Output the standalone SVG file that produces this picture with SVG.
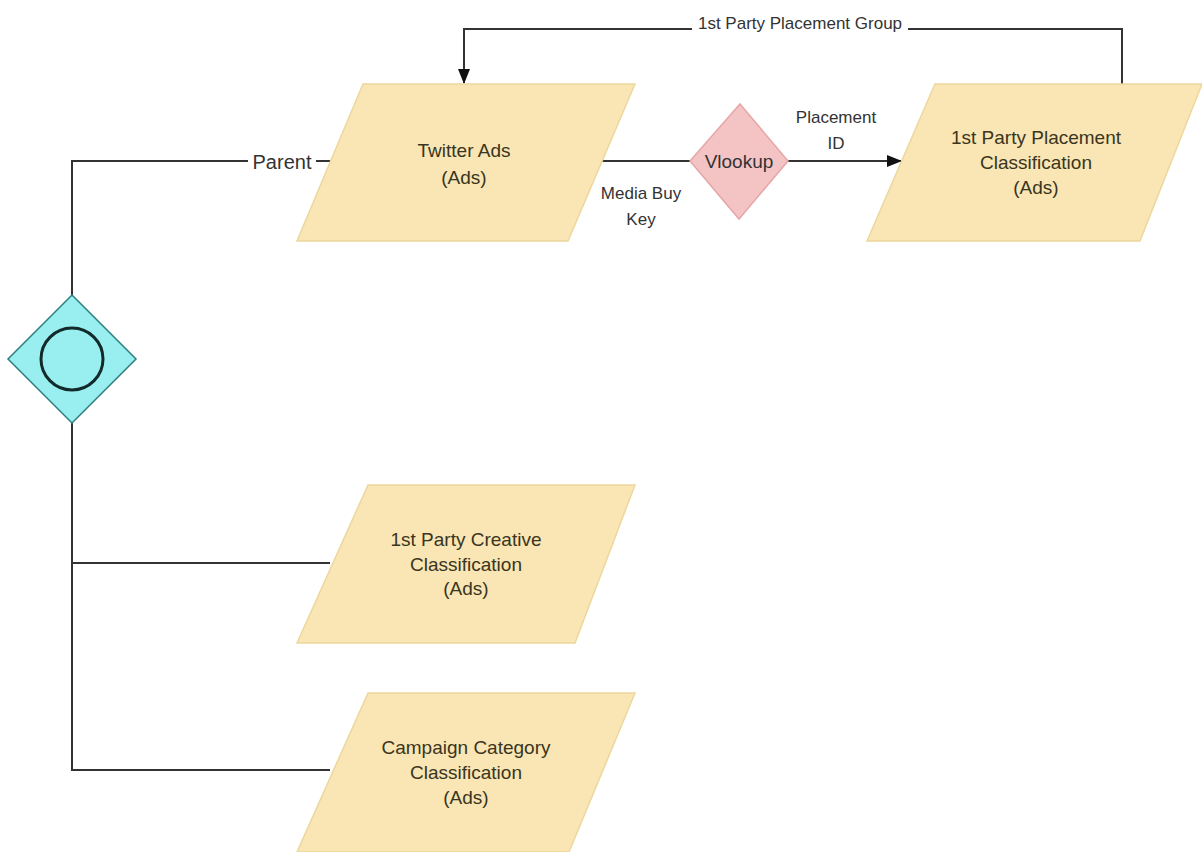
<svg xmlns="http://www.w3.org/2000/svg" width="1202" height="852" viewBox="0 0 1202 852">
<defs>
<style>
.para{fill:#f9e6b4;stroke:#ecd79c;stroke-width:1.5}
.ln{fill:none;stroke:#333;stroke-width:2}
.nt{font-family:"Liberation Sans",Arial,sans-serif;font-size:19px;fill:#3a3520;text-anchor:middle}
.et{font-family:"Liberation Sans",Arial,sans-serif;font-size:17px;fill:#333;text-anchor:middle}
.bg{fill:#fff}
</style>
<marker id="arr" markerWidth="16" markerHeight="16" refX="14" refY="7" orient="auto" markerUnits="userSpaceOnUse">
<path d="M0,1 L15,7 L0,13 Z" fill="#111"/>
</marker>
</defs>
<rect width="1202" height="852" fill="#fff"/>
<g id="connectors">
<path class="ln" d="M1122,84 V29 H464 V83" marker-end="url(#arr)"/>
<rect class="bg" x="692" y="14" width="216" height="24"/>
<text class="et" x="800" y="29">1st Party Placement Group</text>
<path class="ln" d="M600,161 H690"/>
<path class="ln" d="M788,161 H901" marker-end="url(#arr)"/>
<text class="et" x="641" y="199">Media Buy</text>
<text class="et" x="641" y="225">Key</text>
<text class="et" x="836" y="123">Placement</text>
<text class="et" x="836" y="149">ID</text>
<path class="ln" d="M330,161 H72 V295"/>
<rect class="bg" x="248" y="150" width="68" height="24"/>
<text class="et" x="282" y="169" style="font-size:20px">Parent</text>
<path class="ln" d="M72,423 V770 H330"/>
<path class="ln" d="M72,563 H330"/>
</g>
<g id="twitter-ads">
<polygon class="para" points="363,84 635,84 568,241 297,241"/>
<text class="nt" x="464" y="157">Twitter Ads</text>
<text class="nt" x="464" y="184">(Ads)</text>
</g>
<g id="vlookup">
<polygon points="740,104 788,161 739,219 690,161" fill="#f4c4c4" stroke="#e6a6a6" stroke-width="1.5"/>
<text class="nt" x="739" y="168" style="fill:#333">Vlookup</text>
</g>
<g id="placement-classification">
<polygon class="para" points="935,84 1202,84 1140,241 867,241"/>
<text class="nt" x="1036" y="144">1st Party Placement</text>
<text class="nt" x="1036" y="169">Classification</text>
<text class="nt" x="1036" y="194">(Ads)</text>
</g>
<g id="gateway">
<polygon points="72,295 136,359 72,423 8,359" fill="#99eef0" stroke="#2e7f80" stroke-width="1.5"/>
<circle cx="72" cy="359" r="31" fill="none" stroke="#132a2a" stroke-width="3"/>
</g>
<g id="creative-classification">
<polygon class="para" points="368,485 635,485 575,643 297,643"/>
<text class="nt" x="466" y="546">1st Party Creative</text>
<text class="nt" x="466" y="571">Classification</text>
<text class="nt" x="466" y="595">(Ads)</text>
</g>
<g id="campaign-classification">
<polygon class="para" points="368,693 635,693 569,852 297,852"/>
<text class="nt" x="466" y="754">Campaign Category</text>
<text class="nt" x="466" y="779">Classification</text>
<text class="nt" x="466" y="804">(Ads)</text>
</g>
</svg>
